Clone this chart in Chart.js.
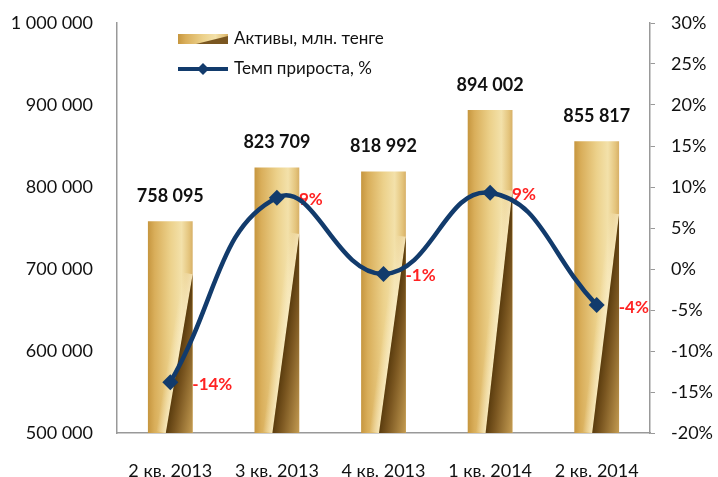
<!DOCTYPE html>
<html>
<head>
<meta charset="utf-8">
<script src="https://cdn.jsdelivr.net/npm/chart.js@4"></script>
<style>
  html, body { margin: 0; padding: 0; background: #fff; }
  #wrap { width: 718px; height: 477px; }
</style>
</head>
<body>
<div id="wrap"><canvas id="myChart" width="718" height="477"></canvas></div>
<script>
var quarters = ["2 кв. 2013", "3 кв. 2013", "4 кв. 2013", "1 кв. 2014", "2 кв. 2014"];
var assets = [758095, 823709, 818992, 894002, 855817];
var growth = [-13.8, 8.7, -0.6, 9.3, -4.4];
var growthLabels = ["-14%", "9%", "-1%", "9%", "-4%"];
var assetsName = "Активы, млн. тенге";
var growthName = "Темп прироста, %";

var FONT = "Lato, 'Open Sans', sans-serif";
var NAVY = "#123b6c";

function fmtThousands(v) {
    return String(v).replace(/\B(?=(\d{3})+(?!\d))/g, " ");
}

function goldGradient(ctx, left, right) {
    var g = ctx.createLinearGradient(left, 0, right, 0);
    g.addColorStop(0, "#c6963f");
    g.addColorStop(0.15, "#d9ae5a");
    g.addColorStop(0.5, "#ecd18b");
    g.addColorStop(0.75, "#f3e1aa");
    g.addColorStop(0.92, "#e4c47c");
    g.addColorStop(1, "#d7b067");
    return g;
}

// dark twisted band in lower part of each bar
var barShading = {
    id: "barShading",
    afterDatasetDraw: function(chart, args) {
        if (args.index !== 0) return;
        var ctx = chart.ctx;
        var meta = chart.getDatasetMeta(0);
        var bottom = chart.chartArea.bottom;
        meta.data.forEach(function(bar, i) {
            var w = bar.width, L = bar.x - w / 2, R = bar.x + w / 2;
            var T = bar.y, B = Math.min(bar.base, bottom), h = B - T;
            var sx = R, sy = T + 0.25 * h;
            var ex = bar.x - 0.1 * w, ey = B;
            var dx = ex - sx, dy = ey - sy;
            var len = Math.sqrt(dx * dx + dy * dy);
            var nx = -dy / len, ny = dx / len;
            if (nx < 0) { nx = -nx; ny = -ny; }
            var dist = (R - ex) * nx + (B - ey) * ny;
            ctx.save();
            ctx.beginPath();
            ctx.rect(L, T, w, h);
            ctx.clip();
            // soft highlight left of the diagonal
            var hg = ctx.createLinearGradient(ex - nx * 10, ey - ny * 10, ex, ey);
            hg.addColorStop(0, "rgba(250,238,200,0)");
            hg.addColorStop(1, "rgba(250,238,200,0.8)");
            ctx.fillStyle = hg;
            ctx.beginPath();
            ctx.moveTo(sx, sy);
            ctx.lineTo(ex, ey);
            ctx.lineTo(ex - nx * 10, ey - ny * 10);
            ctx.lineTo(sx - nx * 10, sy - ny * 10);
            ctx.closePath();
            ctx.fill();
            var g = ctx.createLinearGradient(ex, ey, ex + nx * dist, ey + ny * dist);
            g.addColorStop(0, "#5a3c0e");
            g.addColorStop(0.3, "#7a5620");
            g.addColorStop(1, "#c49c52");
            ctx.fillStyle = g;
            ctx.beginPath();
            ctx.moveTo(sx, sy);
            ctx.lineTo(R, B);
            ctx.lineTo(ex, ey);
            ctx.closePath();
            ctx.fill();
            ctx.restore();

            // value label above bar
            ctx.save();
            ctx.font = "bold 18px " + FONT;
            ctx.fillStyle = "#111";
            ctx.textAlign = "center";
            ctx.textBaseline = "middle";
            ctx.fillText(fmtThousands(assets[i]), bar.x, T - 25);
            ctx.restore();
        });

        // growth labels, drawn under the line
        var lineMeta = chart.getDatasetMeta(1);
        ctx.save();
        ctx.font = "bold 17px " + FONT;
        ctx.fillStyle = "#ff2222";
        ctx.textAlign = "left";
        ctx.textBaseline = "middle";
        lineMeta.data.forEach(function(pt, i) {
            ctx.fillText(growthLabels[i], pt.x + 22, pt.y + 2);
        });
        ctx.restore();
    }
};

var innerLegend = {
    id: "innerLegend",
    afterDraw: function(chart) {
        var ctx = chart.ctx;
        ctx.save();
        ctx.fillStyle = goldGradient(ctx, 178, 228);
        ctx.fillRect(178, 34, 50, 10);
        ctx.fillStyle = "#7a5620";
        ctx.beginPath();
        ctx.moveTo(228, 36);
        ctx.lineTo(228, 44);
        ctx.lineTo(196, 44);
        ctx.closePath();
        ctx.fill();

        ctx.strokeStyle = NAVY;
        ctx.lineWidth = 4;
        ctx.beginPath();
        ctx.moveTo(178, 69);
        ctx.lineTo(228, 69);
        ctx.stroke();
        ctx.fillStyle = NAVY;
        ctx.beginPath();
        ctx.moveTo(203, 63);
        ctx.lineTo(209, 69);
        ctx.lineTo(203, 75);
        ctx.lineTo(197, 69);
        ctx.closePath();
        ctx.fill();

        ctx.font = "17px " + FONT;
        ctx.fillStyle = "#111";
        ctx.textBaseline = "middle";
        ctx.fillText(assetsName, 234, 39);
        ctx.fillText(growthName, 234, 69);
        ctx.restore();
    }
};

function noOverhang(s) {
    s.paddingTop = 0;
    s.paddingBottom = 0;
    s.paddingLeft = 0;
    s.paddingRight = 0;
}

var ctx = document.getElementById("myChart").getContext("2d");

var myChart = new Chart(ctx, {
    type: "bar",
    data: {
        labels: quarters,
        datasets: [{
            label: assetsName,
            data: assets,
            yAxisID: "y",
            order: 1,
            barPercentage: 0.42,
            categoryPercentage: 1,
            borderWidth: 0,
            backgroundColor: function(c) {
                var chart = c.chart;
                var x = chart.scales.x;
                if (!chart.chartArea || !x) return "#e0c078";
                var cx = x.getPixelForValue(c.dataIndex);
                var w = (x.right - x.left) / quarters.length * 0.42;
                return goldGradient(chart.ctx, cx - w / 2, cx + w / 2);
            }
        }, {
            label: growthName,
            type: "line",
            data: growth,
            yAxisID: "y1",
            order: 0,
            borderColor: NAVY,
            backgroundColor: NAVY,
            borderWidth: 4.5,
            tension: 0.45,
            pointStyle: "rectRot",
            pointRadius: 8,
            pointBackgroundColor: NAVY,
            pointBorderWidth: 0
        }]
    },
    options: {
        responsive: false,
        animation: false,
        layout: { padding: { top: 23, left: 0, right: 0, bottom: 0 } },
        plugins: {
            legend: { display: false },
            tooltip: { enabled: false }
        },
        scales: {
            x: {
                grid: { display: false, drawTicks: false },
                border: { color: "#999", width: 1.5 },
                ticks: { font: { family: FONT, size: 18 }, color: "#111", padding: 27 },
                afterFit: function(s) { noOverhang(s); s.height = 44; }
            },
            y: {
                position: "left",
                min: 500000,
                max: 1000000,
                grid: { display: false, drawTicks: false },
                border: { color: "#999", width: 1.5 },
                ticks: {
                    stepSize: 100000,
                    font: { family: FONT, size: 18 },
                    color: "#111",
                    padding: 24,
                    callback: function(v) { return fmtThousands(v); }
                },
                afterFit: function(s) { noOverhang(s); s.width = 117; }
            },
            y1: {
                position: "right",
                min: -20,
                max: 30,
                grid: { drawOnChartArea: false, drawTicks: true, tickLength: 5, color: "#999" },
                border: { color: "#999", width: 1.5 },
                ticks: {
                    stepSize: 5,
                    font: { family: FONT, size: 18 },
                    color: "#111",
                    padding: 16,
                    callback: function(v) { return v + "%"; }
                },
                afterFit: function(s) { noOverhang(s); s.width = 68; }
            }
        }
    },
    plugins: [barShading, innerLegend]
});
</script>
</body>
</html>
